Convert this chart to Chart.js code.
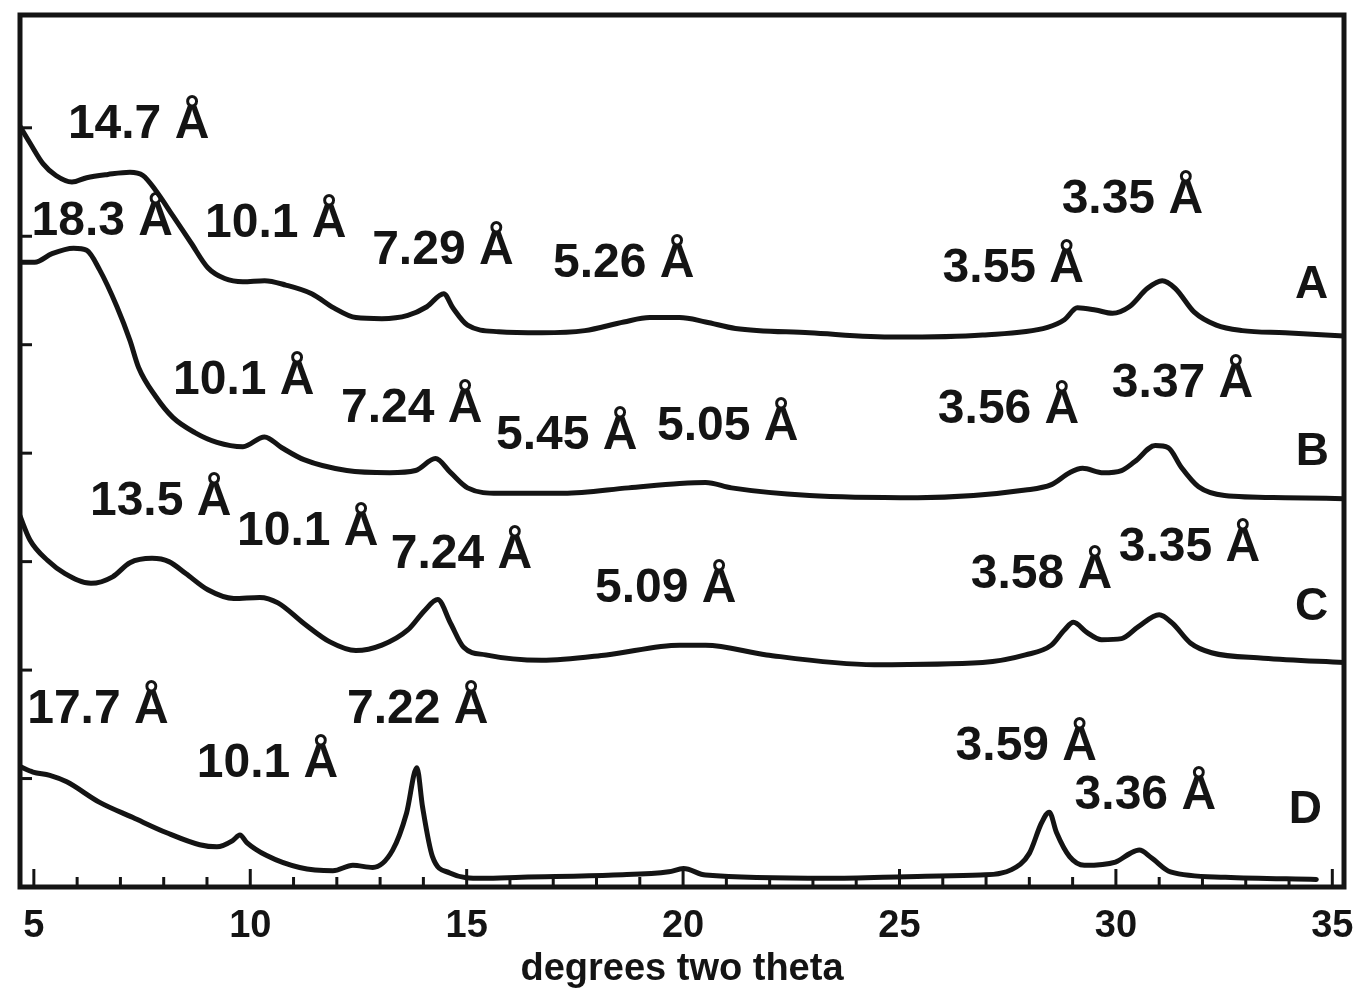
<!DOCTYPE html>
<html><head><meta charset="utf-8">
<script src="https://cdn.jsdelivr.net/npm/chart.js@4.4.1/dist/chart.umd.min.js"></script>
<style>html,body{margin:0;padding:0;background:#fff;}</style>
</head><body>
<canvas id="c" width="1359" height="995"></canvas>
<script>
// ---- data (x: degrees two theta, y: offset intensity in axis units) ----
const xTickValues = [5, 10, 15, 20, 25, 30, 35];
const xTickLabels = ['5', '10', '15', '20', '25', '30', '35'];
const yTickValues = [1, 2, 3, 4, 5, 6, 7];

const aX = [4.67,4.91,5.21,5.51,5.88,6.22,6.71,7.22,7.52,7.82,8.21,8.63,9.02,9.41,9.83,10.33,10.82,11.42,11.93,12.44,13.04,13.64,14.08,14.47,14.68,15.02,15.74,16.73,17.73,18.63,19.23,19.92,20.52,21.21,22.92,24.91,26.92,28.42,28.81,29.11,29.53,29.92,30.31,30.73,31.07,31.37,31.81,32.32,32.92,33.91,35.3];
const aY = [7.02,6.86,6.67,6.56,6.50,6.54,6.57,6.59,6.56,6.42,6.19,5.94,5.71,5.61,5.58,5.59,5.55,5.47,5.34,5.25,5.24,5.27,5.35,5.47,5.34,5.18,5.12,5.11,5.13,5.21,5.25,5.25,5.21,5.15,5.11,5.07,5.09,5.16,5.23,5.34,5.32,5.29,5.35,5.52,5.59,5.52,5.30,5.18,5.13,5.11,5.08];

const bX = [4.67,5.02,5.42,5.92,6.22,6.52,6.92,7.22,7.42,7.82,8.21,8.72,9.23,9.83,10.33,10.73,11.24,12.23,13.22,13.82,14.28,14.63,15.02,15.74,17.24,18.74,19.92,20.52,21.12,22.92,25.42,27.91,28.51,28.93,29.23,29.71,30.13,30.43,30.91,31.21,31.51,31.91,32.51,33.91,35.3];
const bY = [5.76,5.76,5.84,5.89,5.87,5.69,5.35,5.04,4.79,4.52,4.33,4.19,4.10,4.06,4.15,4.05,3.94,3.84,3.82,3.84,3.95,3.82,3.68,3.63,3.63,3.68,3.72,3.73,3.68,3.61,3.59,3.66,3.71,3.82,3.86,3.82,3.84,3.92,4.07,4.05,3.87,3.69,3.61,3.59,3.58];

const cX = [4.67,4.91,5.32,5.72,6.32,6.82,7.22,7.73,8.12,8.51,9.02,9.62,10.22,10.64,11.24,11.84,12.44,13.04,13.64,14.03,14.33,14.63,14.93,15.44,16.73,18.23,19.92,20.52,21.93,24.42,26.92,27.91,28.51,28.81,29.02,29.32,29.67,30.13,30.52,31.00,31.31,31.72,32.21,33.41,35.3];
const cY = [3.43,3.20,3.01,2.89,2.80,2.86,2.99,3.03,3.00,2.89,2.74,2.66,2.67,2.62,2.43,2.26,2.18,2.23,2.37,2.55,2.65,2.43,2.21,2.14,2.09,2.14,2.23,2.23,2.14,2.05,2.07,2.14,2.23,2.37,2.44,2.35,2.28,2.29,2.40,2.51,2.43,2.25,2.16,2.11,2.07];

const dX = [4.68,4.98,5.37,5.76,6.52,7.29,8.07,8.83,9.23,9.60,9.76,9.92,10.38,11.14,11.91,12.37,12.83,13.29,13.61,13.85,13.98,14.21,14.61,15.37,16.27,18.39,19.67,20.01,20.52,23.34,25.60,26.87,27.59,28.00,28.28,28.46,28.63,28.93,29.27,29.99,30.33,30.54,30.82,31.26,32.53,34.63];
const dY = [1.11,1.06,1.03,0.97,0.78,0.64,0.50,0.39,0.37,0.43,0.48,0.41,0.29,0.18,0.15,0.20,0.18,0.34,0.68,1.10,0.74,0.28,0.13,0.08,0.09,0.11,0.14,0.17,0.11,0.08,0.10,0.11,0.16,0.31,0.59,0.69,0.50,0.28,0.20,0.23,0.31,0.34,0.27,0.14,0.09,0.07];

// peak annotations: text, x (deg), y (baseline, axis units)
const peakText = ['14.7 Å','18.3 Å','10.1 Å','7.29 Å','5.26 Å','3.55 Å','3.35 Å',
                  '10.1 Å','7.24 Å','5.45 Å','5.05 Å','3.56 Å','3.37 Å',
                  '13.5 Å','10.1 Å','7.24 Å','5.09 Å','3.58 Å','3.35 Å',
                  '17.7 Å','10.1 Å','7.22 Å','3.59 Å','3.36 Å'];
const peakX = [7.42,6.58,10.59,14.45,18.63,27.63,30.38,
               9.85,13.73,17.31,21.03,27.52,31.54,
               7.93,11.33,14.88,19.60,28.28,31.70,
               6.48,10.40,13.87,27.93,30.68];
const peakY = [6.91,6.01,5.99,5.74,5.62,5.58,6.21,
               4.55,4.29,4.04,4.12,4.28,4.52,
               3.43,3.15,2.94,2.63,2.76,3.01,
               1.51,1.01,1.51,1.17,0.72];

const sampleNames = ['A','B','C','D'];
const sampleX = [34.52, 34.54, 34.52, 34.38];
const sampleY = [5.43, 3.89, 2.46, 0.59];

// ---- chart ----
const toPts = (xs, ys) => xs.map((v, i) => ({x: v, y: ys[i]}));
const INK = '#141414';
const lineStyle = {borderColor: INK, borderWidth: 5, pointRadius: 0, fill: false,
                   cubicInterpolationMode: 'monotone', borderJoinStyle: 'round', borderCapStyle: 'round'};

const decor = {
  id: 'decor',
  afterDatasetsDraw(chart) {
    const {ctx, chartArea: a, scales: {x, y}} = chart;
    ctx.save();
    ctx.strokeStyle = INK;
    ctx.fillStyle = INK;
    ctx.lineWidth = 3;
    for (let v = 5; v <= 35; v++) {
      const px = x.getPixelForValue(v);
      const len = xTickValues.includes(v) ? 18 : 10;
      ctx.beginPath(); ctx.moveTo(px, a.bottom); ctx.lineTo(px, a.bottom - len); ctx.stroke();
    }
    yTickValues.forEach(v => {
      const py = y.getPixelForValue(v);
      ctx.beginPath(); ctx.moveTo(a.left, py); ctx.lineTo(a.left + 12, py); ctx.stroke();
    });
    ctx.lineWidth = 5;
    ctx.strokeRect(a.left, a.top, a.right - a.left, a.bottom - a.top);
    ctx.font = "bold 48px 'Liberation Sans', Arial, sans-serif";
    ctx.textAlign = 'center';
    ctx.textBaseline = 'alphabetic';
    peakText.forEach((t, i) => ctx.fillText(t, x.getPixelForValue(peakX[i]), y.getPixelForValue(peakY[i])));
    ctx.font = "bold 46px 'Liberation Sans', Arial, sans-serif";
    sampleNames.forEach((t, i) => ctx.fillText(t, x.getPixelForValue(sampleX[i]), y.getPixelForValue(sampleY[i])));
    ctx.restore();
  }
};

const narrow = "'Liberation Sans Narrow', 'Liberation Sans', Arial, sans-serif";

new Chart(document.getElementById('c'), {
  type: 'line',
  data: {
    datasets: [
      {label: 'A', data: toPts(aX, aY), ...lineStyle},
      {label: 'B', data: toPts(bX, bY), ...lineStyle},
      {label: 'C', data: toPts(cX, cY), ...lineStyle},
      {label: 'D', data: toPts(dX, dY), ...lineStyle}
    ]
  },
  options: {
    responsive: false,
    animation: false,
    devicePixelRatio: 1,
    layout: {padding: {left: 20, right: 15, top: 15, bottom: 0}},
    plugins: {legend: {display: false}, tooltip: {enabled: false}},
    scales: {
      x: {
        type: 'linear', min: 4.68, max: 35.27,
        afterBuildTicks: s => { s.ticks = xTickValues.map(v => ({value: v})); },
        afterFit: s => { s.height = 108; s.paddingLeft = 0; s.paddingRight = 0; },
        grid: {display: false, drawTicks: false},
        border: {display: false},
        ticks: {
          callback: (v, i) => xTickLabels[i],
          font: {family: narrow, weight: 'bold', size: 38},
          color: INK, padding: 17, maxRotation: 0, autoSkip: false
        },
        title: {display: true, text: 'degrees two theta',
                font: {family: narrow, weight: 'bold', size: 38}, color: INK,
                padding: {top: 0, bottom: 3}}
      },
      y: {display: false, min: 0, max: 8.04}
    }
  },
  plugins: [decor]
});
</script>
</body></html>
